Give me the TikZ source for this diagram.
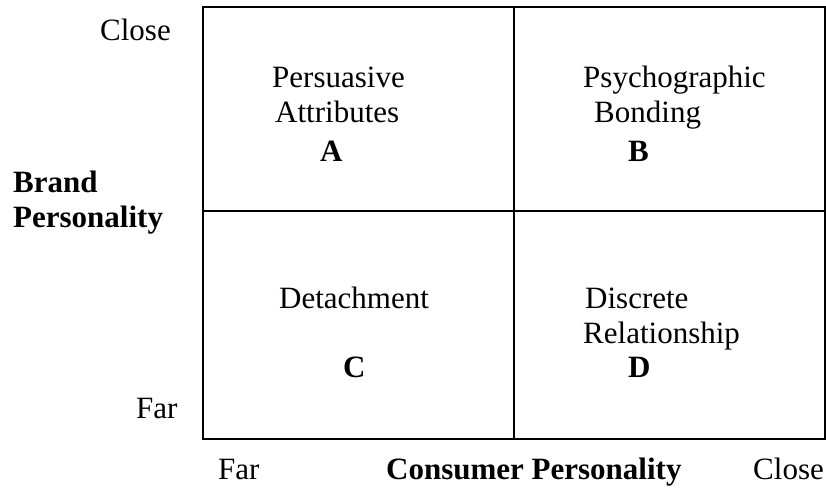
\documentclass[tikz,border=0pt]{standalone}
\usepackage{fontspec}
\setmainfont{Liberation Serif}
\begin{document}
\begin{tikzpicture}[x=1pt,y=-1pt,
  lbl/.style={font=\fontsize{31}{36}\selectfont, inner sep=0pt, anchor=base west},
  blbl/.style={lbl, font=\fontsize{31}{36}\selectfont\bfseries},
  frame/.style={line width=2pt}]
\useasboundingbox (0,0) rectangle (826,488);
\coordinate (tl) at (203,7);
\coordinate (br) at (825,439);
\coordinate (mt) at (514,7);
\coordinate (mb) at (514,439);
\coordinate (ml) at (203,211);
\coordinate (mr) at (825,211);
\draw[frame] (tl) rectangle (br);
\draw[frame] (mt) -- (mb);
\draw[frame] (ml) -- (mr);
\node[lbl] (cl) at (100,40) {Close};
\node[lbl] (fl) at (136,418) {Far};
\node[blbl] (br1) at (13,192) {Brand};
\node[blbl] (br2) at (13,227) {Personality};
\node[lbl] (fb) at (218,479) {Far};
\node[blbl] (cp) at (386,479) {Consumer Personality};
\node[lbl] (cb) at (753,479) {Close};
\node[lbl] (a1) at (272,87) {Persuasive};
\node[lbl] (a2) at (275,122) {Attributes};
\node[blbl] (a3) at (320,161) {A};
\node[lbl] (b1) at (583,87) {Psychographic};
\node[lbl] (b2) at (594,122) {Bonding};
\node[blbl] (b3) at (628,161) {B};
\node[lbl] (c1) at (279,308) {Detachment};
\node[blbl] (c3) at (343,377) {C};
\node[lbl] (d1) at (585,308) {Discrete};
\node[lbl] (d2) at (583,343) {Relationship};
\node[blbl] (d3) at (628,377) {D};
\end{tikzpicture}
\end{document}
